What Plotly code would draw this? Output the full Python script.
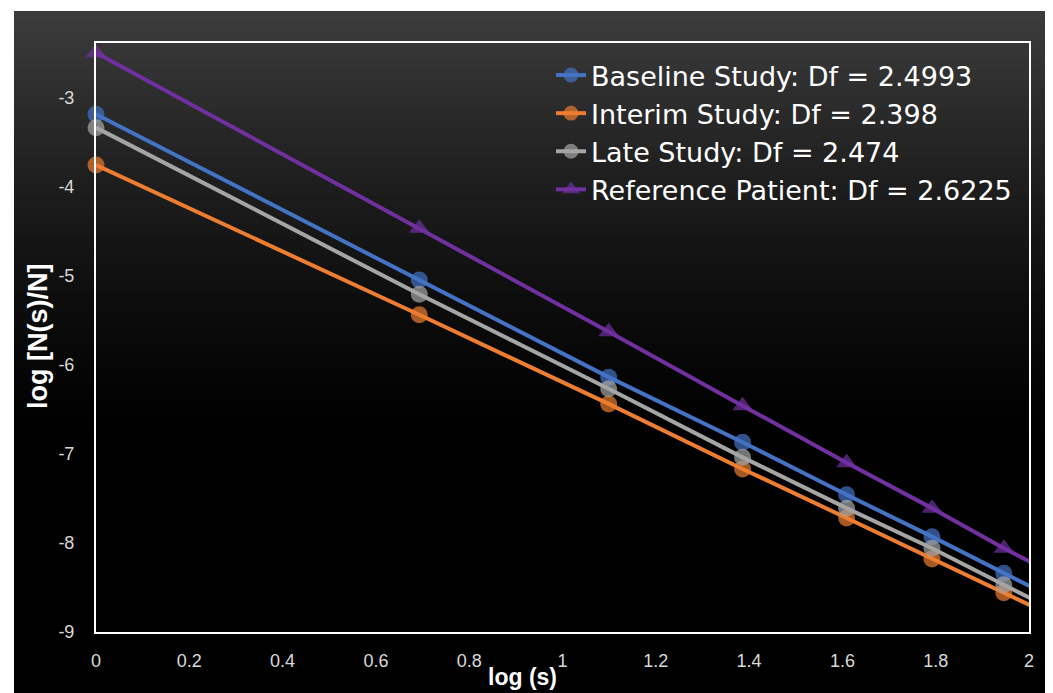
import plotly.graph_objects as go

# ---- data ----
log_s = [0.0, 0.693, 1.099, 1.386, 1.609, 1.792, 1.946, 2.079]
baseline = [-3.19, -5.05, -6.14, -6.87, -7.46, -7.93, -8.34, -8.69]
interim = [-3.76, -5.44, -6.44, -7.17, -7.72, -8.18, -8.56, -8.89]
late = [-3.34, -5.21, -6.27, -7.04, -7.61, -8.06, -8.47, -8.82]
reference = [-2.50, -4.47, -5.63, -6.46, -7.10, -7.61, -8.06, -8.42]

names = [
    "Baseline Study: Df = 2.4993",
    "Interim Study: Df = 2.398",
    "Late Study: Df = 2.474",
    "Reference Patient: Df = 2.6225",
]
x_ticks = [0, 0.2, 0.4, 0.6, 0.8, 1, 1.2, 1.4, 1.6, 1.8, 2]
x_tick_text = ["0", "0.2", "0.4", "0.6", "0.8", "1", "1.2", "1.4", "1.6", "1.8", "2"]
y_ticks = [-9, -8, -7, -6, -5, -4, -3]
y_tick_text = ["-9", "-8", "-7", "-6", "-5", "-4", "-3"]

colors = ["#4472C4", "#ED7D31", "#A5A5A5", "#7030A0"]
symbols = ["circle", "circle", "circle", "triangle-up"]
series = [baseline, interim, late, reference]

# window is 1053x693; page body adds an 8px margin
OFF = 8
WW, WH = 1053, 693
W, H = WW - OFF, WH - OFF
L, R, T, B = 96, 1029, 43, 632  # plot area in window pixels

fig = go.Figure()
for vals, name, col, sym in zip(series, names, colors, symbols):
    s = 17 if sym == "circle" else 18
    sizes = [s] * (len(vals) - 1) + [0]
    fig.add_trace(go.Scatter(
        x=log_s, y=vals, name=name, mode="lines+markers",
        line=dict(color=col, width=4),
        marker=dict(color=col, symbol=sym, size=sizes, line=dict(width=0)),
        cliponaxis=False,
    ))

def px2px(x):
    return (x - L) / (R - L)

def py2py(y):
    return (B - y) / (B - T)

# background gradient (dark, lighter at top)
shapes = []
top, bot = 11, WH + 2
n = 70
for i in range(n):
    y0 = top + (bot - top) * i / n
    y1 = top + (bot - top) * (i + 1) / n + 1
    t = max(0.0, 1 - (y0 - top) / 430)
    c = int(round(60 * t ** 1.4))
    shapes.append(dict(type="rect", xref="paper", yref="paper", layer="below",
                       x0=px2px(14), x1=px2px(WW + 4), y0=py2py(y1), y1=py2py(y0),
                       line=dict(width=0), fillcolor=f"rgb({c},{c},{c})"))

fig.update_layout(
    width=W, height=H,
    margin=dict(l=L - OFF, r=WW - R, t=T - OFF, b=WH - B),
    paper_bgcolor="white", plot_bgcolor="rgba(0,0,0,0)",
    shapes=shapes,
    showlegend=True,
    legend=dict(x=px2px(551), y=py2py(51), xanchor="left", yanchor="top",
                bgcolor="rgba(0,0,0,0)", font=dict(family="DejaVu Sans", size=27, color="white"),
                tracegroupgap=0, itemwidth=30),
    xaxis=dict(range=[0, 2], tickvals=x_ticks, ticktext=x_tick_text, showgrid=False, zeroline=False,
               showline=True, mirror=True, linecolor="white", linewidth=2, ticks="",
               tickfont=dict(family="Liberation Sans Narrow, Liberation Sans", size=18, color="#d9d9d9"),
               ticklabelstandoff=11),
    yaxis=dict(range=[-9, -2.39], tickvals=y_ticks, ticktext=y_tick_text, showgrid=False, zeroline=False,
               showline=True, mirror=True, linecolor="white", linewidth=2, ticks="",
               tickfont=dict(family="Liberation Sans", size=18, color="#d9d9d9"),
               ticklabelstandoff=16),
    annotations=[
        dict(text="<b>log (s)</b>", xref="paper", yref="paper", x=px2px(522), y=py2py(677),
             xanchor="center", yanchor="middle",
             showarrow=False, font=dict(family="Liberation Sans Narrow, Liberation Sans", size=23, color="white")),
        dict(text="<b>log [N(s)/N]</b>", xref="paper", yref="paper", x=px2px(38), y=py2py(337),
             xanchor="center", yanchor="middle",
             showarrow=False, textangle=-90, font=dict(family="Liberation Sans", size=27, color="white")),
    ],
)

fig.write_html("out.html")
